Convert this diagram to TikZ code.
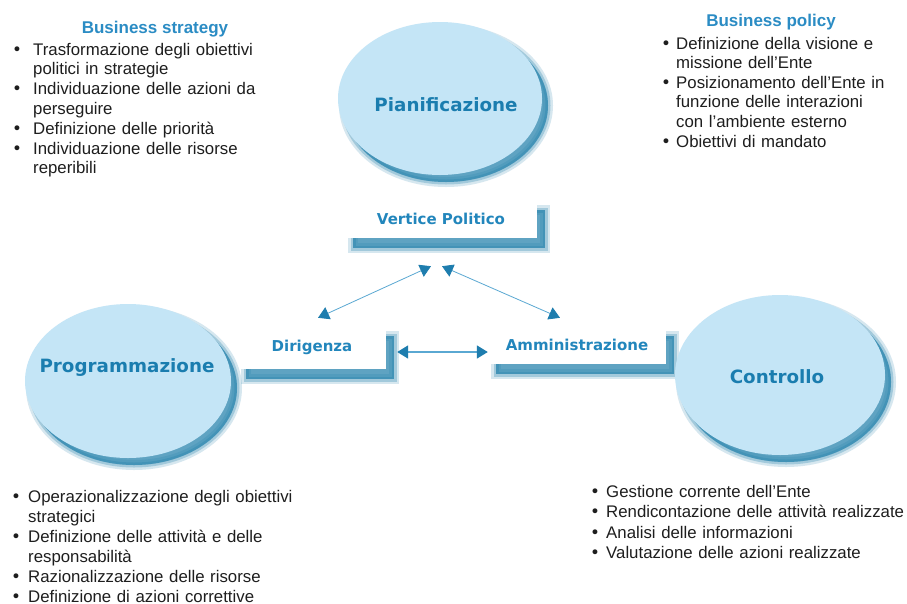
\documentclass[tikz,border=0pt]{standalone}
\usepackage{fontspec}
\setmainfont{Liberation Sans}
\newfontfamily\lblfont{DejaVu Sans}
\usetikzlibrary{shapes.geometric,arrows.meta,calc}

\definecolor{ellfill}{HTML}{C4E5F6}
\definecolor{shade}{HTML}{1D7EAA}
\definecolor{lblblue}{HTML}{1A7DAF}
\definecolor{roleblue}{HTML}{2286BC}
\definecolor{ttlblue}{HTML}{2B8CC4}
\definecolor{bodytext}{HTML}{1E1E1E}
\definecolor{linkblue}{HTML}{5AA8D2}
\definecolor{tipblue}{HTML}{1E7DAE}

% bulleted paragraph with hanging indent
\newlength\bindent
\newcommand{\bitem}[1]{\hangindent=\bindent\hangafter=1\noindent\makebox[\bindent][l]{{\lblfont\textbullet}}#1\par}

\tikzset{
  softshadow/.style 2 args={
    preaction={draw=shade, fill=shade, opacity=0.18, line width=10pt,
      transform canvas={shift={(#1,#2)}}},
    preaction={draw=shade, fill=shade, opacity=0.28, line width=5pt,
      transform canvas={shift={(#1,#2)}}},
    preaction={draw=none, fill=shade, opacity=0.5,
      transform canvas={shift={(#1,#2)}}}
  }
}

\begin{document}
\begin{tikzpicture}[x=1pt,y=-1pt,
  bodylist/.style={anchor=base west, inner sep=0pt, text width=330pt, align=left,
    text=bodytext, font=\fontsize{16.8}{#1}\selectfont},
  bodylist/.default=20,
  heading/.style={anchor=base, inner sep=0pt, text=ttlblue,
    font=\bfseries\fontsize{17}{20}\selectfont},
  phase/.style={ellipse, fill=ellfill, inner sep=0pt, softshadow={6pt}{-7pt}},
  phaselabel/.style={inner sep=0pt, text=lblblue,
    font=\lblfont\bfseries\fontsize{18.3}{22}\selectfont},
  rolebox/.style={rectangle, fill=white, inner sep=0pt, softshadow={8pt}{-10pt},
    text=roleblue, font=\lblfont\bfseries\fontsize{15}{18}\selectfont},
  link/.style={draw=linkblue, line width=0.8pt,
    {Triangle[length=11pt,width=13pt,color=tipblue]}-{Triangle[length=11pt,width=13pt,color=tipblue]}},
  hlink/.style={link, line width=1.8pt}
]
\useasboundingbox (0,0) rectangle (907,603);
\fill[white] (0,0) rectangle (907,603);

% role boxes
\node[rolebox, minimum width=192pt, minimum height=38pt] (vp) at (441,219) {Vertice Politico};
\node[rolebox, minimum width=148pt, minimum height=43pt] (dir) at (312,347.5) {Dirigenza};
\node[rolebox, minimum width=178pt, minimum height=38pt] (amm) at (577,345) {Amministrazione};

% phases
\node[phase, minimum width=204pt, minimum height=153pt] (pian) at (440,98.5) {};
\node[phaselabel] (pianl) at (446,105) {Pianificazione};
\node[phase, minimum width=206pt, minimum height=154pt] (prog) at (128,381) {};
\node[phaselabel] (progl) at (127,368) {Programmazione};
\node[phase, minimum width=210pt, minimum height=160pt] (ctrl) at (780,375) {};
\node[phaselabel] (ctrll) at (777,377) {Controllo};

% relations between the roles
\draw[link] ($(vp.south)+(-10,28)$) -- ($(dir.north)+(6,-8)$);
\draw[link] ($(vp.south)+(1,28)$) -- ($(amm.north)+(-17,-8)$);
\draw[hlink] ($(dir.east)+(11,4.5)$) -- ($(amm.west)+(0,7)$);

% business strategy
\node[heading] (strath) at (155,33) {Business strategy};
\node[bodylist=19.8] (stratl) at (12,55) {\setlength\bindent{21pt}%
  \bitem{Trasformazione degli obiettivi\newline politici in strategie}%
  \bitem{Individuazione delle azioni da\newline perseguire}%
  \bitem{Definizione delle priorità}%
  \bitem{Individuazione delle risorse\newline reperibili}};

% business policy
\node[heading] (polh) at (771,26) {Business policy};
\node[bodylist=19.6] (poll) at (661,49) {\setlength\bindent{15pt}%
  \bitem{Definizione della visione e\newline missione dell’Ente}%
  \bitem{Posizionamento dell’Ente in\newline funzione delle interazioni\newline con l’ambiente esterno}%
  \bitem{Obiettivi di mandato}};

% programmazione
\node[bodylist=20] (progt) at (11,502) {\setlength\bindent{17pt}%
  \bitem{Operazionalizzazione degli obiettivi\newline strategici}%
  \bitem{Definizione delle attività e delle\newline responsabilità}%
  \bitem{Razionalizzazione delle risorse}%
  \bitem{Definizione di azioni correttive}};

% controllo
\node[bodylist=20.6] (ctrlt) at (590,497) {\setlength\bindent{16pt}%
  \bitem{Gestione corrente dell’Ente}%
  \bitem{Rendicontazione delle attività realizzate}%
  \bitem{Analisi delle informazioni}%
  \bitem{Valutazione delle azioni realizzate}};
\end{tikzpicture}
\end{document}
